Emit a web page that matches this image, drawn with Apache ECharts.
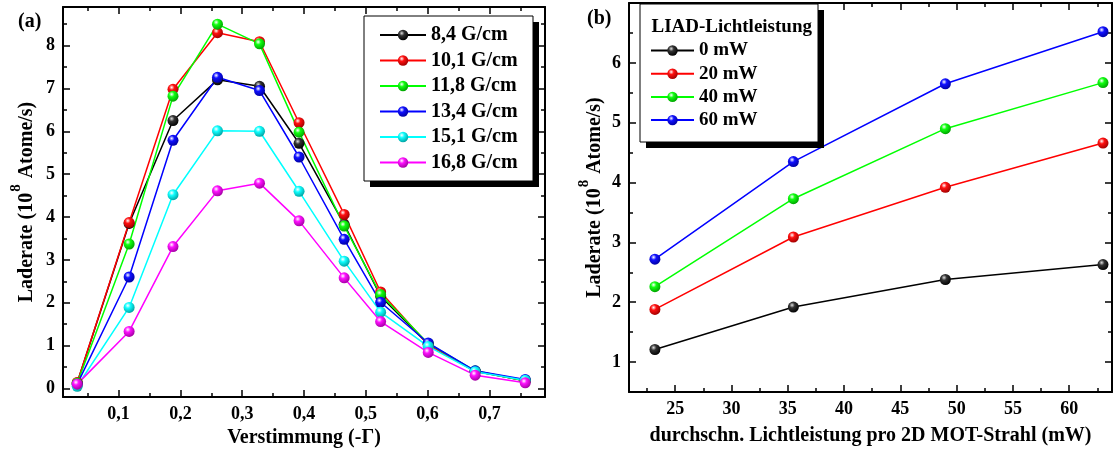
<!DOCTYPE html>
<html><head><meta charset="utf-8">
<script src="https://cdn.jsdelivr.net/npm/echarts@6/dist/echarts.min.js"></script>
<style>html,body{margin:0;padding:0;background:#fff}#c{width:1115px;height:453px}</style>
</head><body><div id="c"></div>
<script>
// ---------- Panel (a) data ----------
const xA = [0.033, 0.117, 0.188, 0.260, 0.328, 0.392, 0.465, 0.524, 0.601, 0.677, 0.758];
const namesA = ['8,4 G/cm', '10,1 G/cm', '11,8 G/cm', '13,4 G/cm', '15,1 G/cm', '16,8 G/cm'];
const yA84  = [0.13, 3.85, 6.25, 7.20, 7.05, 5.72, 3.83, 2.15, 1.03, 0.40, 0.18];
const yA101 = [0.14, 3.87, 6.98, 8.30, 8.09, 6.20, 4.06, 2.25, 1.02, 0.40, 0.18];
const yA118 = [0.12, 3.37, 6.82, 8.50, 8.04, 5.98, 3.79, 2.19, 1.05, 0.41, 0.18];
const yA134 = [0.10, 2.60, 5.79, 7.26, 6.95, 5.40, 3.48, 2.01, 1.06, 0.41, 0.21];
const yA151 = [0.05, 1.89, 4.52, 6.01, 6.00, 4.60, 2.97, 1.78, 0.98, 0.39, 0.19];
const yA168 = [0.10, 1.33, 3.31, 4.61, 4.79, 3.91, 2.58, 1.56, 0.84, 0.31, 0.13];
const xTicksA = [0.1, 0.2, 0.3, 0.4, 0.5, 0.6, 0.7];
const xMinorA = [0.05, 0.15, 0.25, 0.35, 0.45, 0.55, 0.65, 0.75];
const yTicksA = [0, 1, 2, 3, 4, 5, 6, 7, 8];
const yMinorA = [0.5, 1.5, 2.5, 3.5, 4.5, 5.5, 6.5, 7.5, 8.5];

// ---------- Panel (b) data ----------
const xB = [23.2, 35.5, 49.0, 63.0];
const namesB = ['0 mW', '20 mW', '40 mW', '60 mW'];
const yB0  = [1.21, 1.92, 2.38, 2.63];
const yB20 = [1.88, 3.09, 3.92, 4.66];
const yB40 = [2.26, 3.73, 4.90, 5.67];
const yB60 = [2.72, 4.35, 5.65, 6.52];
const xTicksB = [25, 30, 35, 40, 45, 50, 55, 60];
const xMinorB = [22.5, 27.5, 32.5, 37.5, 42.5, 47.5, 52.5, 57.5, 62.5];
const yTicksB = [1, 2, 3, 4, 5, 6];
const yMinorB = [1.5, 2.5, 3.5, 4.5, 5.5, 6.5];

// ---------- styles ----------
const F = 'Liberation Serif';
const stylesA = [
  {c:'#000000', hi:'#e0e0e0', mid:'#333333', dk:'#000000'},
  {c:'#ff0000', hi:'#ffffff', mid:'#ff1010', dk:'#a00000'},
  {c:'#00ff00', hi:'#ffffff', mid:'#10ff10', dk:'#00a000'},
  {c:'#0000ff', hi:'#ffffff', mid:'#1010ff', dk:'#0000a0'},
  {c:'#00ffff', hi:'#ffffff', mid:'#10ffff', dk:'#00a0a0'},
  {c:'#ff00ff', hi:'#ffffff', mid:'#ff10ff', dk:'#a000a0'}
];
const stylesB = [stylesA[0], stylesA[1], stylesA[2], stylesA[3]];
function sphere(s){
  return {type:'radial', x:0.38, y:0.33, r:0.7, colorStops:[
    {offset:0, color:s.hi},{offset:0.35, color:s.mid},{offset:1, color:s.dk}]};
}
const fmtDec = v => v.toFixed(1).replace('.', ',');
const fmtInt = v => String(Math.round(v));

function axisSet(kind, grid, min, max, major, minor, fmt, name, nameGap) {
  const isX = kind === 'x';
  const pos1 = isX ? 'bottom' : 'left', pos2 = isX ? 'top' : 'right';
  const base = {type:'value', gridIndex:grid, min:min, max:max, splitLine:{show:false}};
  const line = {show:true, onZero:false, lineStyle:{color:'#000', width:2}};
  const noLine = {show:false, onZero:false};
  const tk = (vals, len) => ({show:true, inside:true, length:len, customValues:vals, lineStyle:{color:'#000', width:1.5}});
  const nameStyle = {color:'#000', fontFamily:F, fontWeight:'bold', fontSize:20,
    rich:{
      a:{fontFamily:F, fontWeight:'bold', fontSize:20, color:'#000', verticalAlign:'bottom', lineHeight:22},
      s:{fontFamily:F, fontWeight:'bold', fontSize:15, color:'#000', verticalAlign:'bottom', lineHeight:22, padding:[0,1,13,1]}
    }};
  return [
    Object.assign({}, base, {position:pos1, axisLine:line, axisTick:tk(major,7),
      axisLabel:{show:true, customValues:major, formatter:fmt, margin:8, color:'#000', fontFamily:F, fontWeight:'bold', fontSize:18},
      name:name, nameLocation:'middle', nameGap:nameGap, nameTextStyle:nameStyle}),
    Object.assign({}, base, {position:pos1, axisLine:noLine, axisTick:tk(minor,4), axisLabel:{show:false}}),
    Object.assign({}, base, {position:pos2, axisLine:line, axisTick:tk(major,7), axisLabel:{show:false}}),
    Object.assign({}, base, {position:pos2, axisLine:noLine, axisTick:tk(minor,4), axisLabel:{show:false}})
  ];
}

const xAxes = [].concat(
  axisSet('x', 0, 0.01, 0.79, xTicksA, xMinorA, fmtDec, 'Verstimmung (-Γ)', 30),
  axisSet('x', 1, 20.9, 63.8, xTicksB, xMinorB, fmtInt, 'durchschn. Lichtleistung pro 2D MOT-Strahl (mW)', 34)
);
const yAxes = [].concat(
  axisSet('y', 0, -0.2, 8.9, yTicksA, yMinorA, fmtInt, '{a|Laderate (10}{s|8}{a| Atome/s)}', 26),
  axisSet('y', 1, 0.5, 7.0, yTicksB, yMinorB, fmtInt, '{a|Laderate (10}{s|8}{a| Atome/s)}', 24)
);

function mkSeries(name, xs, ys, st, axisIdx) {
  return {
    type:'line', name:name, xAxisIndex:axisIdx, yAxisIndex:axisIdx,
    data: xs.map((x, i) => [x, ys[i]]),
    symbol:'circle', symbolSize:11, clip:false,
    lineStyle:{color:st.c, width:1.5},
    itemStyle:{color:sphere(st), borderWidth:0},
    emphasis:{disabled:true}
  };
}
const seriesA = [yA84, yA101, yA118, yA134, yA151, yA168].map((ys, i) => mkSeries(namesA[i], xA, ys, stylesA[i], 0));
const seriesB = [yB0, yB20, yB40, yB60].map((ys, i) => mkSeries(namesB[i], xB, ys, stylesB[i], 4));

const legendText = size => ({color:'#000', fontFamily:F, fontWeight:'bold', fontSize:size, lineHeight:size});

const option = {
  animation:false,
  backgroundColor:'#fff',
  grid:[
    {left:63, top:7, width:482, height:390},
    {left:629, top:3, width:483, height:389}
  ],
  xAxis:xAxes,
  yAxis:yAxes,
  legend:[
    {data:namesA, orient:'vertical', left:379, top:25, padding:0, itemWidth:46, itemHeight:13, itemGap:5.5,
     textStyle:Object.assign(legendText(20), {lineHeight:20}), selectedMode:false, z:10},
    {data:namesB, orient:'vertical', left:650, top:41, padding:0, itemWidth:43, itemHeight:13, itemGap:4.2,
     textStyle:Object.assign(legendText(19), {lineHeight:19}), selectedMode:false, z:10}
  ],
  graphic:[
    {type:'rect', z:5, shape:{x:370, y:22, width:169, height:165}, style:{fill:'#000'}},
    {type:'rect', z:6, shape:{x:364, y:16, width:169, height:165}, style:{fill:'#fff', stroke:'#000', lineWidth:1}},
    {type:'rect', z:5, shape:{x:646, y:10, width:178, height:138}, style:{fill:'#000'}},
    {type:'rect', z:6, shape:{x:640, y:4, width:178, height:138}, style:{fill:'#fff', stroke:'#000', lineWidth:1}},
    {type:'text', z:11, x:651.5, y:27.5, style:{text:'LIAD-Lichtleistung', fill:'#000', font:'bold 19px "Liberation Serif"', textVerticalAlign:'middle'}},
    {type:'text', z:11, x:18, y:21.5, style:{text:'(a)', fill:'#000', font:'bold 20px "Liberation Serif"', textVerticalAlign:'middle'}},
    {type:'text', z:11, x:587, y:18.5, style:{text:'(b)', fill:'#000', font:'bold 20px "Liberation Serif"', textVerticalAlign:'middle'}}
  ],
  series: seriesA.concat(seriesB)
};
const chart = echarts.init(document.getElementById('c'), null, {renderer:'canvas'});
chart.setOption(option);
</script>
</body></html>
